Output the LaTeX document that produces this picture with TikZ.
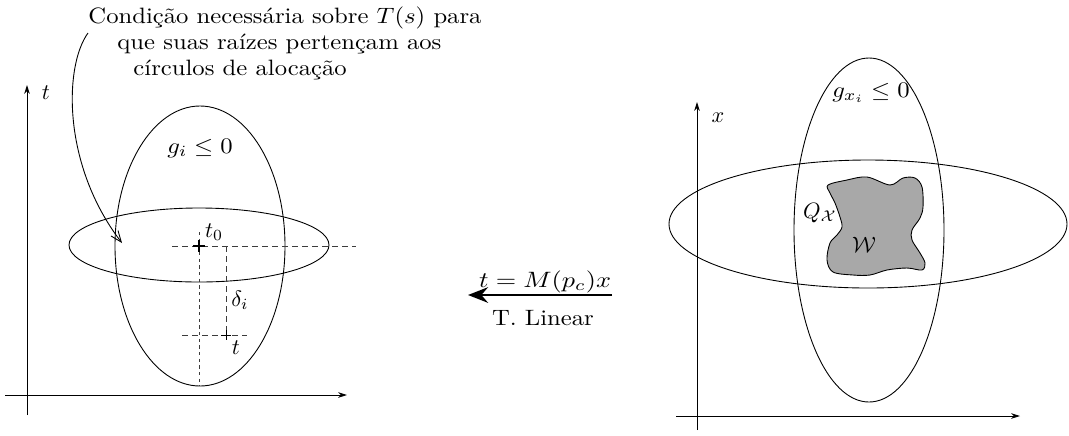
\documentclass[tikz,border=0pt]{standalone}
\usepackage{graphicx}
\usepackage{tikz}
\usetikzlibrary{arrows.meta, positioning, calc}
\definecolor{blobfill}{RGB}{168,168,168}
\definecolor{guidegray}{RGB}{60,60,60}
\newcommand{\widetxt}[1]{\scalebox{1.11}[1]{#1}}

\begin{document}
\begin{tikzpicture}[x=0.45pt, y=-0.45pt, >=Stealth,
  axis/.style={thin, -{Stealth[length=4pt, width=2.5pt]}},
  guide/.style={thin, guidegray, dash pattern=on 2.5pt off 2pt},
  dotguide/.style={thin, guidegray, dash pattern=on 1.5pt off 1.5pt},
  pointer/.style={thin, -{Straight Barb[length=5pt, width=4pt]}},
  captext/.style={anchor=west, inner sep=0pt}]

  \useasboundingbox (0,0) rectangle (1069,435);

  % ---------- Caption with curved pointer ----------
  \node[captext] (cap1) at (88,18) {\widetxt{Condição necessária sobre $T(s)$ para}};
  \node[captext] (cap2) at (117,44) {\widetxt{que suas raízes pertençam aos}};
  \node[captext] (cap3) at (133,70) {\widetxt{círculos de alocação}};
  \coordinate (aim) at (122,243);
  \draw[pointer] (88,33) .. controls (64,66) and (62,165) .. (aim);

  % ---------- Left panel: t space ----------
  \draw[axis] (27,415) -- (27,85);
  \draw[axis] (5,395) -- (347,395);
  \node (tlab) at (46,93) {$t$};
  \draw (200,246) ellipse [x radius=85, y radius=140];
  \draw (199,245) ellipse [x radius=130, y radius=37];
  \node (gi) at (200,148) {\widetxt{$g_i \leq 0$}};

  \coordinate (t0pt) at (199,246);
  \coordinate (tpt) at (226,335);
  \draw[guide] (172,246) -- (356,246);
  \draw[dotguide] (199,232) -- (199,386);
  \draw[guide] (226,246) -- (tpt);
  \draw[guide] (182,335) -- (247,335);
  \draw[thick] ($(t0pt)+(-6,0)$) -- ++(12,0) ($(t0pt)+(0,-6)$) -- ++(0,12);
  \draw ($(tpt)+(-5,0)$) -- ++(10,0) ($(tpt)+(0,-5)$) -- ++(0,10);
  \node (t0lab) at (214,232) {$t_0$};
  \node (dlab) at (240,300) {$\delta_i$};
  \node (tptlab) at (236,348) {$t$};

  % ---------- Middle: linear map ----------
  \coordinate (mapstart) at (612,295);
  \coordinate (mapend) at (468,295);
  \draw[line width=1.3pt, -{Stealth[length=9pt, width=7pt, inset=3pt]}] (mapstart) -- (mapend);
  \node (maplab) at (545,282) {\scalebox{1.18}[1]{$t = M(p_c)x$}};
  \node (lintxt) at (543,318) {\widetxt{T. Linear}};

  % ---------- Right panel: x space ----------
  \draw[axis] (697,430) -- (697,102);
  \draw[axis] (676,416) -- (1020,416);
  \node (xlab) at (718,118) {$x$};
  \draw (869,230) ellipse [x radius=75, y radius=172];
  \draw (868,224) ellipse [x radius=199, y radius=64];
  \node (gxi) at (871,93) {\widetxt{$g_{x_i} \leq 0$}};
  \draw[fill=blobfill] plot[smooth cycle, tension=0.55] coordinates {
    (828,185) (847,180) (867,177) (890,185) (903,178) (915,178) (922,187)
    (923,207) (920,218) (912,230) (912,240) (920,253) (925,263) (922,270)
    (907,268) (887,270) (870,275) (853,275) (833,272) (827,260) (830,243)
    (837,235) (842,227) (840,217) (835,203) (830,193)};
  \node (qlab) at (820,213) {$Q_{\mathcal{X}}$};
  \node (wlab) at (864,245) {$\mathcal{W}$};

\end{tikzpicture}
\end{document}
